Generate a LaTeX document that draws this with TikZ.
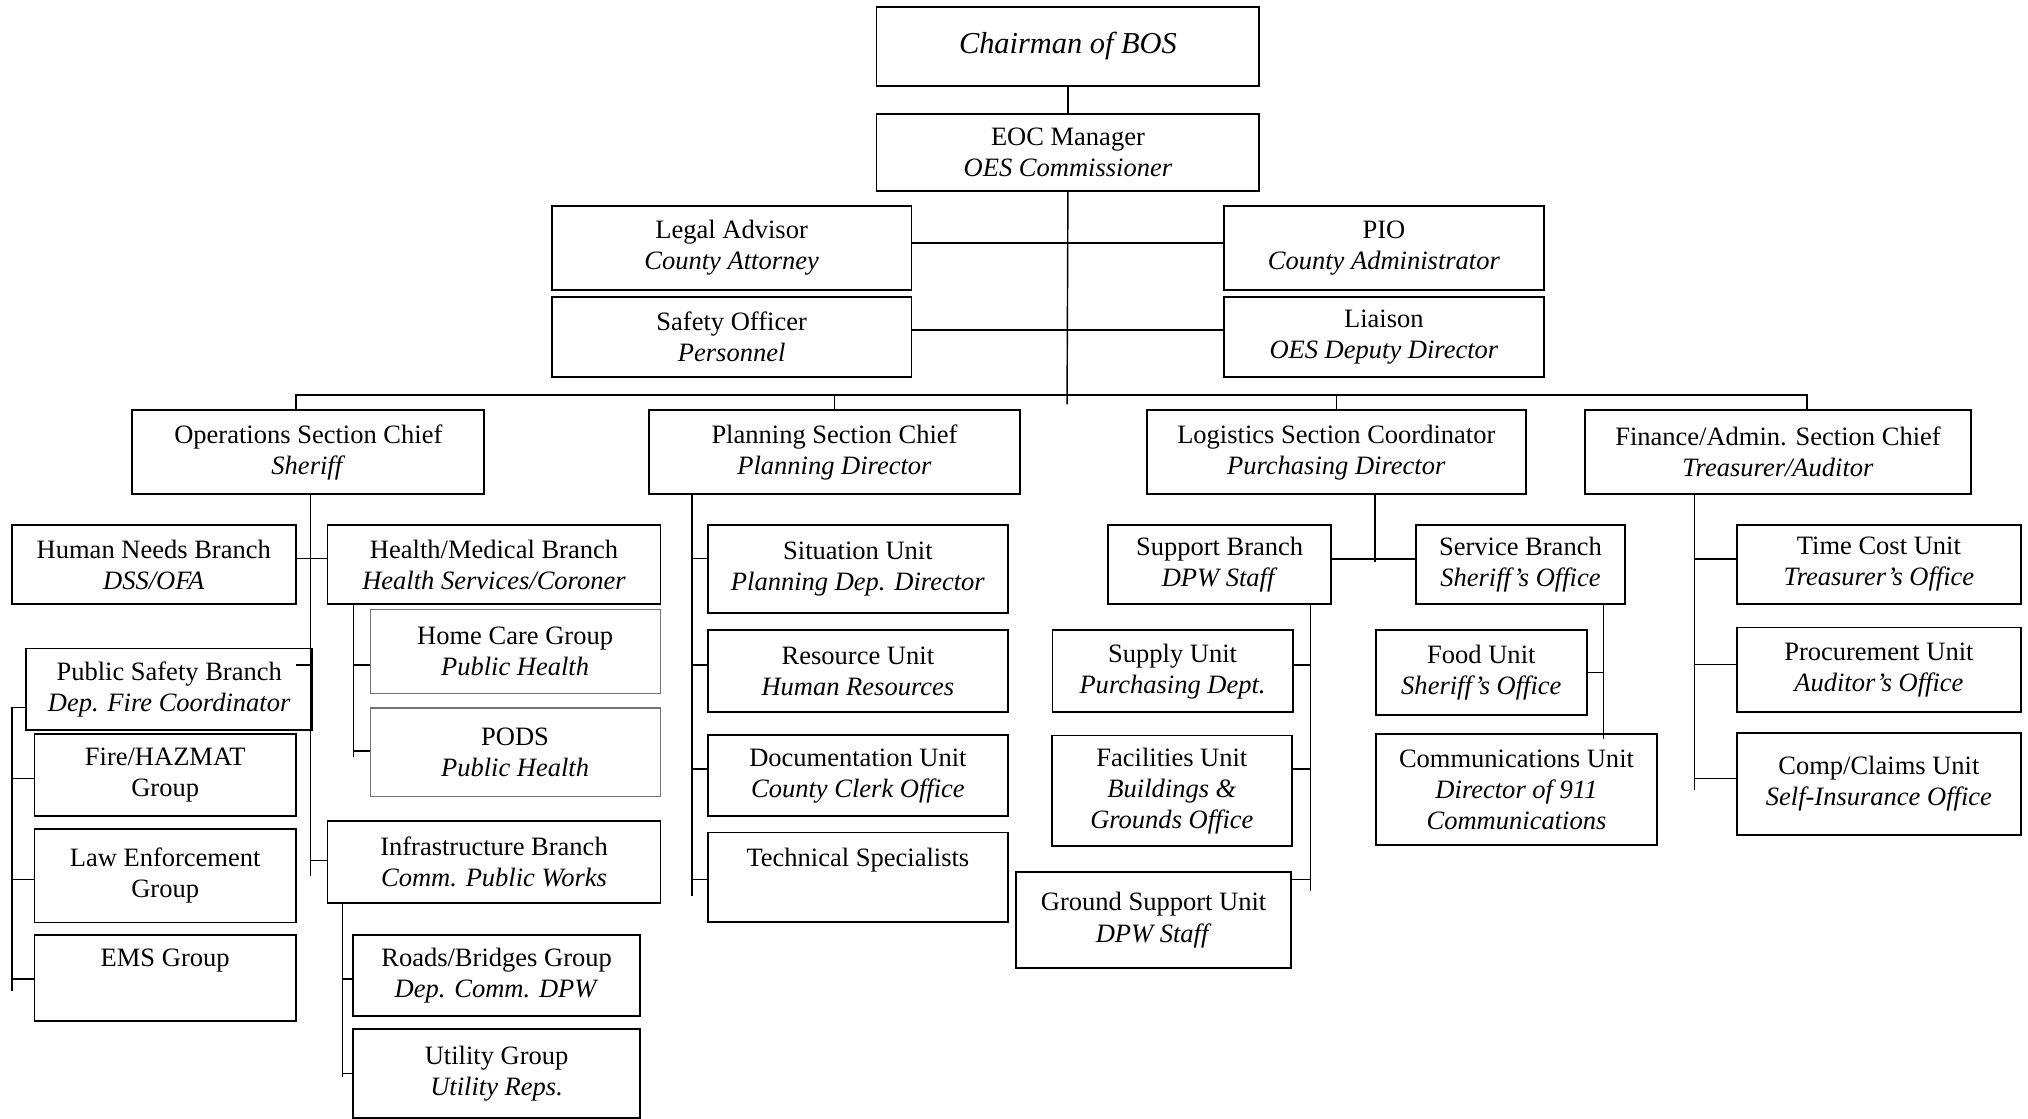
\documentclass[tikz,border=0pt]{standalone}
\usepackage{fontspec}
\setmainfont{Liberation Serif}
\newcommand\fsz{\fontsize{20.5}{24}\selectfont}
\begin{document}
\begin{tikzpicture}[x=1pt,y=-1pt,
  box/.style={draw, line width=1.4pt, align=center, inner sep=0pt, anchor=north west, font=\fsz},
  gbox/.style={box, draw=black!55, line width=0.8pt},
  conn/.style={line width=1.1pt}]
\useasboundingbox[fill=white] (0,0) rectangle (1568,865);
% top
\node[box, minimum width=296pt, minimum height=60.5pt, font=\fontsize{23.5}{28}\selectfont] (chair) at (677,5) {\textit{Chairman of BOS}};
\node[box, minimum width=296pt, minimum height=59.5pt] (eoc) at (677,87.5) {EOC Manager\\\textit{OES Commissioner}};
\node[box, minimum width=278pt, minimum height=65pt] (legal) at (426,158.5) {Legal Advisor\\\textit{County Attorney}};
\node[box, minimum width=247.4pt, minimum height=65pt] (pio) at (945.6,158.5) {PIO\\\textit{County Administrator}};
\node[box, minimum width=278pt, minimum height=62pt] (safety) at (426,229) {Safety Officer\\\textit{Personnel}};
\node[box, minimum width=247.4pt, minimum height=62pt] (liaison) at (945.6,229) {Liaison\\\textit{OES Deputy Director}};
% sections
\node[box, minimum width=272.2pt, minimum height=64.9pt] (ops) at (101.6,316.5) {Operations Section Chief\\\textit{Sheriff}};
\node[box, minimum width=287pt, minimum height=64.9pt] (plan) at (501,316.5) {Planning Section Chief\\\textit{Planning Director}};
\node[box, minimum width=293pt, minimum height=64.9pt] (log) at (886,316.5) {Logistics Section Coordinator\\\textit{Purchasing Director}};
\node[box, minimum width=298pt, minimum height=64.9pt] (fin) at (1225,316.5) {Finance/Admin. Section Chief\\\textit{Treasurer/Auditor}};
% operations subtree
\node[box, minimum width=219.6pt, minimum height=61.5pt] (hnb) at (8.4,405) {Human Needs Branch\\\textit{DSS/OFA}};
\node[box, minimum width=257.5pt, minimum height=61.5pt] (hmb) at (252.5,405) {Health/Medical Branch\\\textit{Health Services/Coroner}};
\node[gbox, minimum width=224.3pt, minimum height=64.5pt] (hcg) at (285.7,471) {Home Care Group\\\textit{Public Health}};
\node[gbox, minimum width=224.3pt, minimum height=68.5pt] (pods) at (285.7,547) {PODS\\\textit{Public Health}};
\node[box, minimum width=221.2pt, minimum height=63.3pt] (psb) at (19.5,500.7) {Public Safety Branch\\\textit{Dep. Fire Coordinator}};
\node[box, minimum width=202pt, minimum height=63pt] (fire) at (26,567) {Fire/HAZMAT\\Group};
\node[box, minimum width=202pt, minimum height=72.2pt] (law) at (26,640.4) {Law Enforcement\\Group};
\node[box, minimum width=202pt, minimum height=67pt] (ems) at (26,722) {EMS Group\\\strut};
\node[box, minimum width=257.5pt, minimum height=63.7pt] (infra) at (252.5,634) {Infrastructure Branch\\\textit{Comm. Public Works}};
\node[box, minimum width=221.9pt, minimum height=63pt] (roads) at (272.3,722) {Roads/Bridges Group\\\textit{Dep. Comm. DPW}};
\node[box, minimum width=221.9pt, minimum height=69pt] (util) at (272.3,795) {Utility Group\\\textit{Utility Reps.}};
% planning subtree
\node[box, minimum width=232pt, minimum height=68pt] (sit) at (546.6,405) {Situation Unit\\\textit{Planning Dep. Director}};
\node[box, minimum width=232pt, minimum height=63.3pt] (res) at (546.6,486.7) {Resource Unit\\\textit{Human Resources}};
\node[box, minimum width=232pt, minimum height=63pt] (doc) at (546.6,567.5) {Documentation Unit\\\textit{County Clerk Office}};
\node[box, minimum width=232pt, minimum height=69pt] (tech) at (546.6,643) {Technical Specialists\\\strut};
% logistics subtree
\node[box, minimum width=172.2pt, minimum height=61pt] (sup) at (856.2,405) {Support Branch\\\textit{DPW Staff}};
\node[box, minimum width=161.9pt, minimum height=61.5pt] (srv) at (1093.9,405) {Service Branch\\\textit{Sheriff’s Office}};
\node[box, minimum width=185.8pt, minimum height=63.3pt] (supply) at (813,486.7) {Supply Unit\\\textit{Purchasing Dept.}};
\node[box, minimum width=185.3pt, minimum height=85.3pt] (fac) at (812.7,568) {Facilities Unit\\\textit{Buildings \&}\\\textit{Grounds Office}};
\node[box, minimum width=212.9pt, minimum height=74.6pt] (gsu) at (784.8,673.4) {Ground Support Unit\\\textit{DPW Staff}};
\node[box, minimum width=163.3pt, minimum height=65.7pt] (food) at (1063,486.6) {Food Unit\\\textit{Sheriff’s Office}};
\node[box, minimum width=217.6pt, minimum height=85.8pt] (comm) at (1063,567) {Communications Unit\\\textit{Director of 911}\\\textit{Communications}};
% finance subtree
\node[box, minimum width=219.2pt, minimum height=61.5pt] (tcu) at (1342.4,405) {Time Cost Unit\\\textit{Treasurer’s Office}};
\node[box, minimum width=219.2pt, minimum height=65.2pt] (proc) at (1342.4,484.5) {Procurement Unit\\\textit{Auditor’s Office}};
\node[box, minimum width=219.2pt, minimum height=78.6pt] (comp) at (1342.4,566.2) {Comp/Claims Unit\\\textit{Self-Insurance Office}};

% coordinates for trunk ends
\coordinate (hub) at (825,312.7);
\coordinate (barL) at (229,305.4);
\coordinate (barR) at (1397,305.4);
\coordinate (opsEnd) at (240,677);
\coordinate (psbStub) at (229,514);
\coordinate (hmbEnd) at (273.3,585);
\coordinate (psbTop) at (9.4,547);
\coordinate (psbEnd) at (9.4,766);
\coordinate (infEnd) at (264.9,832.4);
\coordinate (planEnd) at (534.9,692.7);
\coordinate (logEnd) at (1063,434.3);
\coordinate (supEnd) at (1013.3,688.8);
\coordinate (srvX) at (1239.8,0);
\coordinate (finEnd) at (1310.3,610.8);

\begin{scope}[conn]
% top
\draw (chair) -- (eoc);
\draw (eoc.south) -- (hub);
\draw (legal.east |- 0,188) -- (pio.west |- 0,188);
\draw (safety.east |- 0,255) -- (liaison.west |- 0,255);
\draw (ops.north -| barL) -- (barL) -- (barR) -- (fin.north -| barR);
\draw (plan.north) -- (plan.north |- barL);
\draw (log.north) -- (log.north |- barL);
% operations
\draw (ops.south -| opsEnd) -- (opsEnd);
\draw (hnb.east |- 0,432) -- (hmb.west |- 0,432);
\draw (psbStub) -- (psb.east |- psbStub);
\draw (opsEnd |- 0,665.4) -- (infra.west |- 0,665.4);
\draw (hmb.south -| hmbEnd) -- (hmbEnd);
\draw (hmbEnd |- 0,514) -- (hcg.west |- 0,514);
\draw (hmbEnd |- 0,580.7) -- (pods.west |- 0,580.7);
\draw (psb.west |- psbTop) -- (psbTop) -- (psbEnd);
\draw (psbEnd |- 0,601.7) -- (fire.west |- 0,601.7);
\draw (psbEnd |- 0,679.9) -- (law.west |- 0,679.9);
\draw (psbEnd |- 0,757) -- (ems.west |- 0,757);
\draw (infra.south -| infEnd) -- (infEnd);
\draw (infEnd |- 0,757) -- (roads.west |- 0,757);
\draw (infEnd |- 0,829.8) -- (util.west |- 0,829.8);
% planning
\draw (plan.south -| planEnd) -- (planEnd);
\draw (planEnd |- 0,431.6) -- (sit.west |- 0,431.6);
\draw (planEnd |- 0,514) -- (res.west |- 0,514);
\draw (planEnd |- 0,594.4) -- (doc.west |- 0,594.4);
\draw (planEnd |- 0,680) -- (tech.west |- 0,680);
% logistics
\draw (log.south -| logEnd) -- (logEnd);
\draw (sup.east |- 0,432.2) -- (srv.west |- 0,432.2);
\draw (sup.south -| supEnd) -- (supEnd);
\draw (supEnd |- 0,514) -- (supply.east |- 0,514);
\draw (supEnd |- 0,594.4) -- (fac.east |- 0,594.4);
\draw (supEnd |- 0,680) -- (gsu.east |- 0,680);
\draw (srv.south -| srvX) -- ([yshift=-4.6pt]comm.north -| srvX);
\draw (food.east |- 0,520) -- (srvX |- 0,520);
% finance
\draw (fin.south -| finEnd) -- (finEnd);
\draw (finEnd |- 0,432.2) -- (tcu.west |- 0,432.2);
\draw (finEnd |- 0,513.7) -- (proc.west |- 0,513.7);
\draw (finEnd |- 0,601.8) -- (comp.west |- 0,601.8);
\end{scope}
\end{tikzpicture}
\end{document}
